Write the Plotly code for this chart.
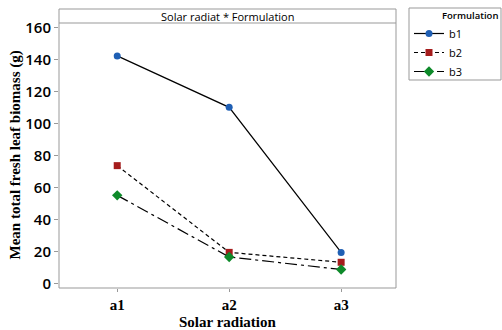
import plotly.graph_objects as go

categories = ["a1", "a2", "a3"]
b1 = [142.5, 110.3, 19.5]
b2 = [73.8, 19.5, 13.3]
b3 = [55.2, 16.6, 8.8]
series_names = ["b1", "b2", "b3"]
y_ticks = [0, 20, 40, 60, 80, 100, 120, 140, 160]

x_idx = list(range(len(categories)))

fig = go.Figure()
styles = [
    dict(color="#1f5fb4", dash="solid", symbol="circle", msize=7),
    dict(color="#a51c1c", dash="4px,3px", symbol="square", msize=7),
    dict(color="#0e8a2a", dash="12px,4px,3px,4px", symbol="diamond", msize=8),
]
for name, vals, st in zip(series_names, [b1, b2, b3], styles):
    fig.add_trace(go.Scatter(
        x=x_idx, y=vals, name=name, mode="lines+markers",
        line=dict(color="black", width=1.2, dash=st["dash"]),
        marker=dict(color=st["color"], symbol=st["symbol"], size=st["msize"],
                    line=dict(width=0)),
    ))

L, R, T, B = 59, 396, 23, 288
W, H = 502, 330
pw, ph = R - L, B - T


def px_x(x):
    return (x - L) / pw


def px_y(y):
    return (B - y) / ph


fig.update_layout(
    width=W, height=H,
    margin=dict(l=L, r=W - R, t=T, b=H - B, autoexpand=False),
    plot_bgcolor="white", paper_bgcolor="white",
    showlegend=True,
    legend=dict(
        x=px_x(409), y=px_y(19), xanchor="left", yanchor="top",
        borderwidth=0, bgcolor="rgba(0,0,0,0)",
        font=dict(family="Open Sans", size=11, color="black"),
        tracegroupgap=0, itemwidth=30,
    ),
    xaxis=dict(
        range=[-0.52, 2.49], tickvals=x_idx, ticktext=categories,
        showgrid=False, zeroline=False, showline=False, automargin=False,
        ticks="outside", ticklen=3, tickcolor="#999999",
        tickfont=dict(family="Liberation Serif", size=15, color="black", weight="bold"),
    ),
    yaxis=dict(
        range=[-2.8, 163.1], tickvals=y_ticks,
        showgrid=False, zeroline=False, showline=False, automargin=False,
        ticks="outside", ticklen=4, tickcolor="#999999",
        tickfont=dict(family="Open Sans", size=15, color="black", weight=600),
    ),
    shapes=[
        dict(type="rect", xref="paper", yref="paper", x0=0, x1=1, y0=0, y1=px_y(9),
             line=dict(color="#999999", width=1), layer="above"),
        dict(type="line", xref="paper", yref="paper", x0=0, x1=1, y0=1, y1=1,
             line=dict(color="#999999", width=1), layer="above"),
        dict(type="rect", xref="paper", yref="paper", x0=px_x(409), x1=px_x(501),
             y0=px_y(80), y1=px_y(8), line=dict(color="#999999", width=1)),
    ],
    annotations=[
        dict(text="Solar radiat * Formulation", xref="paper", yref="paper",
             x=0.5, y=px_y(16), xanchor="center", yanchor="middle",
             showarrow=False, font=dict(family="Open Sans", size=11, color="black")),
        dict(text="Formulation", xref="paper", yref="paper",
             x=px_x(470), y=px_y(15.5), xanchor="center", yanchor="middle",
             showarrow=False, font=dict(family="Open Sans", size=9.5, color="black", weight=600)),
        dict(text="<b>Solar radiation</b>", xref="paper", yref="paper",
             x=px_x(227), y=px_y(322), xanchor="center", yanchor="middle",
             showarrow=False, font=dict(family="Liberation Serif", size=15, color="black")),
        dict(text="<b>Mean total fresh leaf biomass (g)</b>", xref="paper", yref="paper",
             x=px_x(15), y=0.5, xanchor="center", yanchor="middle", textangle=-90,
             showarrow=False, font=dict(family="Liberation Serif", size=15, color="black")),
    ],
)

fig.write_html(
    "out.html",
    config={"displayModeBar": False},
    post_script="document.body.style.margin='0';document.body.style.overflow='hidden';",
)
